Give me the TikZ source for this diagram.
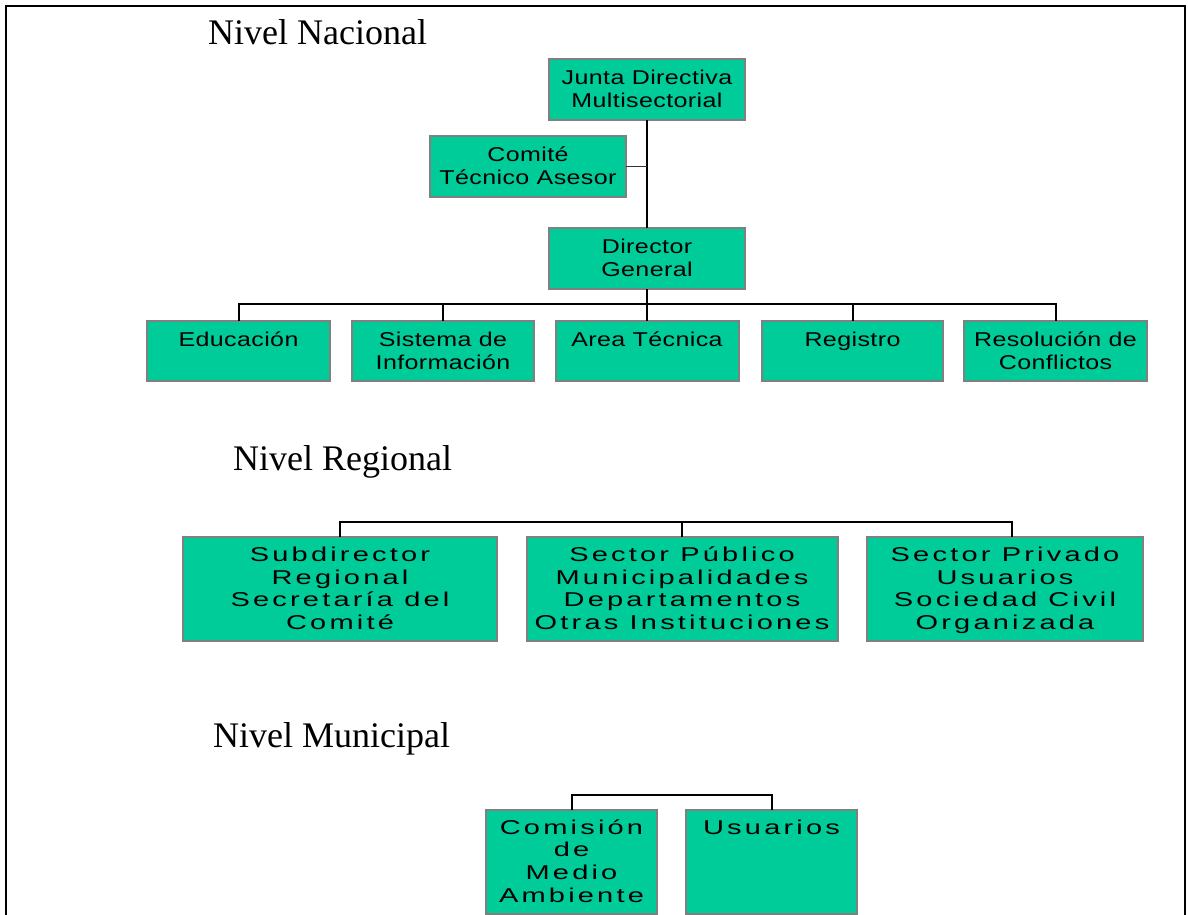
\documentclass[tikz,border=0pt]{standalone}
\usepackage{fontspec}
\setmainfont{Liberation Serif}
\newfontfamily\boxfontA[FakeStretch=1.25, LetterSpace=2]{Liberation Sans}
\newfontfamily\boxfontB[FakeStretch=1.45, LetterSpace=16]{Liberation Sans}
\definecolor{boxgreen}{RGB}{0,204,153}
\definecolor{boxedge}{RGB}{128,128,128}
\begin{document}
\begin{tikzpicture}[x=1pt,y=-1pt,
  orgbox/.style={draw=boxedge, line width=2pt, fill=boxgreen, inner sep=0pt, outer sep=0pt},
  lblA/.style={anchor=north, inner sep=0pt, outer sep=0pt, align=center, font=\boxfontA\fontsize{20}{23.3}\selectfont},
  lblB/.style={anchor=north, inner sep=0pt, outer sep=0pt, align=center, font=\boxfontB\fontsize{20}{22.7}\selectfont},
  lvl/.style={anchor=base west, inner sep=0pt, font=\fontsize{36}{40}\selectfont},
  conn/.style={draw=black, line width=2pt},
  connthin/.style={draw=black!80, line width=1.6pt},
  frameline/.style={draw=black, line width=2.5pt}
]
\useasboundingbox (0,0) rectangle (1188,915);
\fill[white] (0,0) rectangle (1188,915);

% frame
\coordinate (fbl) at (6,916);
\coordinate (ftl) at (6,6);
\coordinate (ftr) at (1185,6);
\coordinate (fbr) at (1185,916);
\draw[frameline] (fbl) -- (ftl) -- (ftr) -- (fbr);

% level titles
\node[lvl] (tnac) at (208,45) {Nivel Nacional};
\node[lvl] (treg) at (233,470) {Nivel Regional};
\node[lvl] (tmun) at (213,747) {Nivel Municipal};

% national boxes
\node[orgbox, minimum width=196, minimum height=61] (junta) at (647,89.5) {};
\node[orgbox, minimum width=196, minimum height=61] (comite) at (528,166.5) {};
\node[orgbox, minimum width=196, minimum height=61] (director) at (647,258.5) {};
\node[orgbox, minimum width=183, minimum height=60] (edu) at (238.5,351) {};
\node[orgbox, minimum width=182, minimum height=60] (sis) at (443,351) {};
\node[orgbox, minimum width=183, minimum height=60] (area) at (647,351) {};
\node[orgbox, minimum width=181, minimum height=60] (reg) at (852.5,351) {};
\node[orgbox, minimum width=183, minimum height=60] (res) at (1055.5,351) {};

\node[lblA] (juntaL) at ([yshift=-6.3pt]junta.north) {\rule{0pt}{19pt}Junta Directiva\\Multisectorial};
\node[lblA] (comiteL) at ([yshift=-6.3pt]comite.north) {\rule{0pt}{19pt}Comité\\Técnico Asesor};
\node[lblA] (directorL) at ([yshift=-6.3pt]director.north) {\rule{0pt}{19pt}Director\\General};
\node[lblA] (eduL) at ([yshift=-6.3pt]edu.north) {\rule{0pt}{19pt}Educación};
\node[lblA] (sisL) at ([yshift=-6.3pt]sis.north) {\rule{0pt}{19pt}Sistema de\\Información};
\node[lblA] (areaL) at ([yshift=-6.3pt]area.north) {\rule{0pt}{19pt}Area Técnica};
\node[lblA] (regL) at ([yshift=-6.3pt]reg.north) {\rule{0pt}{19pt}Registro};
\node[lblA] (resL) at ([yshift=-6.3pt]res.north) {\rule{0pt}{19pt}Resolución de\\Conflictos};

% national connectors
\draw[conn] (junta.south) -- (director.north);
\draw[connthin] (comite.east) -- (comite.east -| junta.south);
\coordinate (busN) at (647,304);
\draw[conn] (director.south) -- (area.north);
\draw[conn] (edu.north) |- (res.north |- busN) -- (res.north);
\draw[conn] (sis.north) -- (sis.north |- busN);
\draw[conn] (reg.north) -- (reg.north |- busN);

% regional boxes
\node[orgbox, minimum width=314, minimum height=104] (sub) at (340,589) {};
\node[orgbox, minimum width=311, minimum height=104] (pub) at (682,589) {};
\node[orgbox, minimum width=276, minimum height=104] (priv) at (1005,589) {};

\node[lblB] (subL) at ([yshift=-5.5pt]sub.north) {\rule{0pt}{19pt}Subdirector\\Regional\\Secretaría del\\Comité};
\node[lblB] (pubL) at ([yshift=-5.5pt]pub.north) {\rule{0pt}{19pt}Sector Público\\Municipalidades\\Departamentos\\Otras Instituciones};
\node[lblB] (privL) at ([yshift=-5.5pt]priv.north) {\rule{0pt}{19pt}Sector Privado\\Usuarios\\Sociedad Civil\\Organizada};

\coordinate (busRr) at (1012,522);
\draw[conn] (sub.north) |- (busRr) -- (busRr |- priv.north);
\draw[conn] (pub.north) -- (pub.north |- busRr);

% municipal boxes
\node[orgbox, minimum width=171, minimum height=104] (com) at (571.5,862) {};
\node[orgbox, minimum width=171, minimum height=104] (usu) at (771.5,862) {};

\node[lblB] (comL) at ([yshift=-5pt]com.north) {\rule{0pt}{19pt}Comisión\\de\\Medio\\Ambiente};
\node[lblB] (usuL) at ([yshift=-5pt]usu.north) {\rule{0pt}{19pt}Usuarios};

\coordinate (busM) at (771.5,795);
\draw[conn] (com.north) |- (busM) -- (usu.north);
\end{tikzpicture}
\end{document}
